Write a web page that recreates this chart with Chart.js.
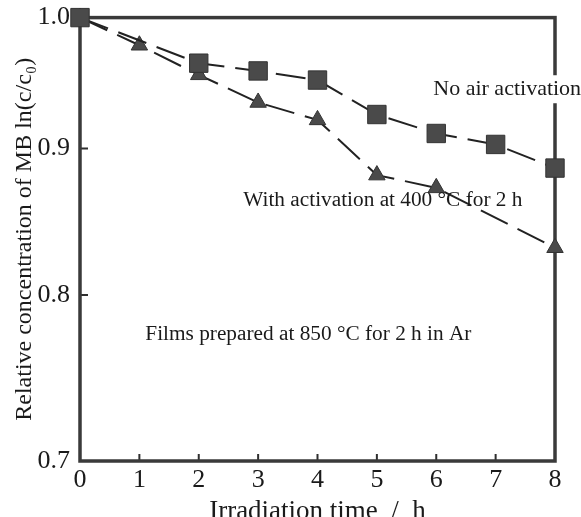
<!DOCTYPE html>
<html>
<head>
<meta charset="utf-8">
<script src="https://cdn.jsdelivr.net/npm/chart.js@4/dist/chart.umd.min.js"></script>
<style>
html,body{margin:0;padding:0;background:#fff;}
#wrap{width:581px;height:517px;position:relative;}
</style>
</head>
<body>
<div id="wrap"><canvas id="c" width="581" height="517"></canvas></div>
<script>
// ---- data ----
const noAirTimes = [0, 2, 3, 4, 5, 6, 7, 8];
const noAirValues = [1.0, 0.964, 0.958, 0.951, 0.925, 0.911, 0.903, 0.886];
const activatedTimes = [0, 1, 2, 3, 4, 5, 6, 8];
const activatedValues = [1.0, 0.978, 0.955, 0.934, 0.921, 0.881, 0.872, 0.831];
const xTicks = [0, 1, 2, 3, 4, 5, 6, 7, 8];
const yTicks = [0.7, 0.8, 0.9, 1.0];
const yTickLabels = ['0.7', '0.8', '0.9', '1.0'];
const xTitle = 'Irradiation time  /  h';
const yTitle = 'Relative concentration of MB ln(c/c\u2080)';
const labelNoAir = 'No air activation';
const labelActivated = 'With activation at 400 \u00B0C for 2 h';
const labelFilms = 'Films prepared at 850 \u00B0C for 2 h in Ar';

const FONT = '"Liberation Serif", "Times New Roman", serif';
const INK = '#2e2e2e';

const toPts = (xs, ys) => xs.map((x, i) => ({x: x, y: ys[i]}));

const framePlugin = {
  id: 'frame',
  beforeDatasetsDraw(chart) {
    const {ctx, chartArea: a, scales} = chart;
    ctx.save();
    ctx.strokeStyle = INK;
    ctx.lineWidth = 2;
    ctx.beginPath();
    xTicks.slice(1, -1).forEach(v => {
      const px = scales.x.getPixelForValue(v);
      ctx.moveTo(px, a.bottom);
      ctx.lineTo(px, a.bottom - 7);
    });
    yTicks.slice(1, -1).forEach(v => {
      const py = scales.y.getPixelForValue(v);
      ctx.moveTo(a.left, py);
      ctx.lineTo(a.left + 8, py);
    });
    ctx.stroke();
    ctx.lineWidth = 3.5;
    ctx.strokeStyle = '#3a3a3a';
    ctx.strokeRect(a.left, a.top, a.right - a.left, a.bottom - a.top);
    ctx.restore();
  },
  afterDatasetsDraw(chart) {
    const {ctx, scales} = chart;
    ctx.save();
    ctx.textBaseline = 'middle';
    ctx.textAlign = 'left';
    ctx.font = '22px ' + FONT;
    const nx = scales.x.getPixelForValue(5.95);
    const ny = scales.y.getPixelForValue(0.944);
    const w = ctx.measureText(labelNoAir).width;
    ctx.fillStyle = '#fff';
    ctx.fillRect(nx - 2, ny - 14, w + 4, 28);
    ctx.fillStyle = '#1a1a1a';
    ctx.fillText(labelNoAir, nx, ny);
    ctx.font = '21.3px ' + FONT;
    ctx.fillText(labelActivated, scales.x.getPixelForValue(2.75), scales.y.getPixelForValue(0.863));
    ctx.fillText(labelFilms, scales.x.getPixelForValue(1.1), scales.y.getPixelForValue(0.775));
    ctx.restore();
  }
};

new Chart(document.getElementById('c'), {
  type: 'scatter',
  data: {
    datasets: [
      {
        label: 'With activation',
        data: toPts(activatedTimes, activatedValues),
        showLine: true,
        borderColor: '#222',
        borderWidth: 2,
        borderDash: [30, 11],
        pointStyle: 'triangle',
        pointRadius: 9.5,
        pointBackgroundColor: '#4a4a4a',
        pointBorderColor: '#333',
        pointBorderWidth: 1,
        clip: false,
        order: 2
      },
      {
        label: 'No air activation',
        data: toPts(noAirTimes, noAirValues),
        showLine: true,
        borderColor: '#222',
        borderWidth: 2,
        borderDash: [30, 11],
        pointStyle: 'rect',
        pointRadius: 13,
        pointBackgroundColor: '#4a4a4a',
        pointBorderColor: '#333',
        pointBorderWidth: 1,
        clip: false,
        order: 1
      }
    ]
  },
  options: {
    responsive: false,
    animation: false,
    events: [],
    layout: {padding: {left: 0, right: 26, top: 17, bottom: 0}},
    plugins: {legend: {display: false}, tooltip: {enabled: false}},
    scales: {
      x: {
        type: 'linear',
        min: 0, max: 8,
        grid: {display: false},
        border: {display: false},
        afterBuildTicks: s => { s.ticks = xTicks.map(v => ({value: v})); },
        afterFit: s => { s.height = 56; },
        ticks: {
          color: '#1a1a1a',
          font: {family: FONT, size: 26},
          padding: -4,
          maxRotation: 0,
          callback: v => String(v)
        },
        title: {
          display: true,
          text: xTitle,
          color: '#1a1a1a',
          font: {family: FONT, size: 27, lineHeight: 1.0},
          padding: {top: 0, bottom: -8}
        }
      },
      y: {
        type: 'logarithmic',
        min: 0.7, max: 1.0,
        grid: {display: false},
        border: {display: false},
        afterBuildTicks: s => { s.ticks = yTicks.map(v => ({value: v})); },
        afterFit: s => { s.width = 80; },
        ticks: {
          color: '#1a1a1a',
          font: {family: FONT, size: 26},
          padding: 2,
          callback: (v) => { const i = yTicks.indexOf(v); return i >= 0 ? yTickLabels[i] : ''; }
        },
        title: {
          display: true,
          text: yTitle,
          color: '#1a1a1a',
          font: {family: FONT, size: 24, lineHeight: 1.0},
          padding: {top: 13, bottom: 0}
        }
      }
    }
  },
  plugins: [framePlugin]
});
</script>
</body>
</html>
